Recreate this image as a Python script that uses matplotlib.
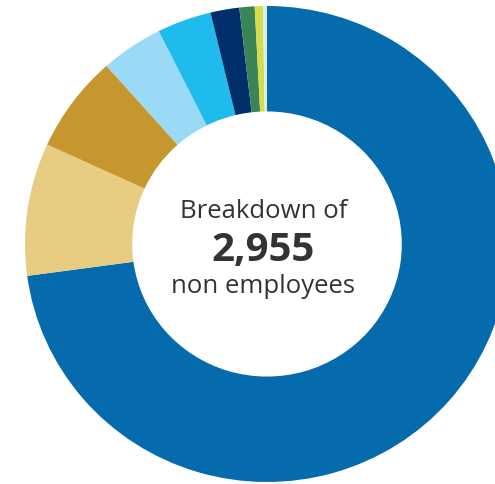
import matplotlib
matplotlib.use('Agg')
import matplotlib.pyplot as plt

# non employee categories, read clockwise from 12 o'clock
categories = ['Group A', 'Group B', 'Group C', 'Group D', 'Group E',
              'Group F', 'Group G', 'Group H', 'Group I']
counts = [2153, 266, 195, 123, 107, 57, 30, 16, 8]
colors = ['#066BAC', '#E6CD82', '#C6972E', '#9ADAF7', '#1FBBEC',
          '#002F6C', '#3A8558', '#D5DB4A', '#D8EEF7']

title_top = 'Breakdown of'
total_label = '2,955'
title_bottom = 'non employees'

plt.rcParams['font.family'] = ['Open Sans', 'DejaVu Sans']

fig = plt.figure(figsize=(4.95, 4.85), dpi=100)
ax = fig.add_axes([0, 0, 1, 1])

ax.pie(counts, colors=colors, startangle=90, counterclock=False,
       radius=1.0, wedgeprops=dict(width=0.443, linewidth=0))

# reference is cropped on the right and bottom, and slightly squashed
ax.set_aspect('auto')
ax.set_xlim(-267 / 242, (495 - 267) / 242)
ax.set_ylim(-(485 - 245) / 238, 245 / 238)
ax.axis('off')

txt = '#333333'
ax.text(-0.015, 0.14, title_top, ha='center', va='center',
        fontsize=18.5, color=txt)
ax.text(-0.015, -0.025, total_label, ha='center', va='center',
        fontsize=29, fontweight='bold', color=txt)
ax.text(-0.015, -0.175, title_bottom, ha='center', va='center',
        fontsize=18.5, color=txt)

fig.savefig('out.png', dpi=100)
